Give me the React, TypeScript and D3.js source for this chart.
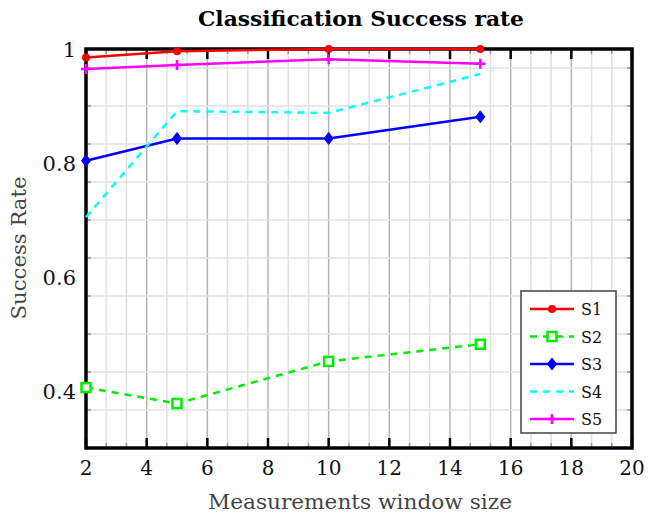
import React, { useEffect, useRef } from "react";
import * as d3 from "d3";

const windowSizes = [2, 5, 10, 15];
const s1 = [0.985, 0.996, 1.0, 1.0];
const s2 = [0.406, 0.378, 0.452, 0.482];
const s3 = [0.804, 0.843, 0.843, 0.881];
const s4 = [0.705, 0.891, 0.888, 0.956];
const s5 = [0.965, 0.972, 0.982, 0.974];
const xTicks = [2, 4, 6, 8, 10, 12, 14, 16, 18, 20];
const yTicks = [0.4, 0.6, 0.8, 1];

const series = [
  { name: "S1", values: s1, color: "#ff0000", dash: null, marker: "dot" },
  { name: "S2", values: s2, color: "#00ee00", dash: "7,6", marker: "square" },
  { name: "S3", values: s3, color: "#0000ff", dash: null, marker: "diamond" },
  { name: "S4", values: s4, color: "#00ffff", dash: "7,6", marker: "none" },
  { name: "S5", values: s5, color: "#ff00ff", dash: null, marker: "plus" },
];

const App = () => {
  const svgRef = useRef<SVGSVGElement>(null);

  useEffect(() => {
    const svg = d3.select(svgRef.current);
    svg.selectAll("*").remove();

    const width = 648;
    const height = 517;
    const margin = { top: 49, right: 16, bottom: 69, left: 86 };
    const font = "'DejaVu Serif', serif";

    const x = d3.scaleLinear().domain([2, 20]).range([margin.left, width - margin.right]);
    const y = d3.scaleLinear().domain([0.3, 1]).range([height - margin.bottom, margin.top]);
    const [x0, x1] = x.range();
    const [y0, y1] = y.range();

    svg.attr("width", width).attr("height", height);

    // grid: minor every 1/3 of a major step
    const xMinor = d3.range(0, 28).map(i => 2 + (i * 2) / 3).filter(v => v <= 20.001);
    const yMinor = d3.range(0, 12).map(i => 0.3 + (i * 0.2) / 3).filter(v => v <= 1.0001);
    const isMajorX = (v: number) => Math.abs(v / 2 - Math.round(v / 2)) < 0.01;
    const isMajorY = (v: number) => Math.abs(v / 0.2 - Math.round(v / 0.2)) < 0.01;

    const grid = svg.append("g");
    xMinor.forEach(v => {
      grid.append("line")
        .attr("x1", x(v)).attr("x2", x(v)).attr("y1", y0).attr("y2", y1)
        .attr("stroke", isMajorX(v) ? "#b4b4b4" : "#e0e0e0").attr("stroke-width", 1.5);
    });
    yMinor.forEach(v => {
      grid.append("line")
        .attr("x1", x0).attr("x2", x1).attr("y1", y(v)).attr("y2", y(v))
        .attr("stroke", isMajorY(v) ? "#b4b4b4" : "#e0e0e0").attr("stroke-width", 1.5);
    });

    // ticks (inside)
    const ticks = svg.append("g");
    xMinor.forEach(v => {
      const major = isMajorX(v);
      const len = major ? 10 : 5;
      const col = major ? "#000" : "#999";
      const sw = major ? 2.5 : 1.5;
      ticks.append("line").attr("x1", x(v)).attr("x2", x(v)).attr("y1", y0).attr("y2", y0 - len).attr("stroke", col).attr("stroke-width", sw);
      ticks.append("line").attr("x1", x(v)).attr("x2", x(v)).attr("y1", y1).attr("y2", y1 + len).attr("stroke", col).attr("stroke-width", sw);
    });
    yMinor.forEach(v => {
      const major = isMajorY(v);
      const len = major ? 10 : 5;
      const col = major ? "#000" : "#999";
      const sw = major ? 2.5 : 1.5;
      ticks.append("line").attr("x1", x0).attr("x2", x0 + len).attr("y1", y(v)).attr("y2", y(v)).attr("stroke", col).attr("stroke-width", sw);
      ticks.append("line").attr("x1", x1).attr("x2", x1 - len).attr("y1", y(v)).attr("y2", y(v)).attr("stroke", col).attr("stroke-width", sw);
    });

    // frame
    svg.append("rect")
      .attr("x", x0).attr("y", y1).attr("width", x1 - x0).attr("height", y0 - y1)
      .attr("fill", "none").attr("stroke", "#000").attr("stroke-width", 3.5);

    // tick labels
    svg.append("g").selectAll("text").data(xTicks).enter().append("text")
      .attr("x", d => x(d)).attr("y", y0 + 27)
      .attr("text-anchor", "middle")
      .style("font-family", font).style("font-size", "20px").style("fill", "#111")
      .text(d => String(d));
    svg.append("g").selectAll("text").data(yTicks).enter().append("text")
      .attr("x", x0 - 10).attr("y", d => y(d) + 8)
      .attr("text-anchor", "end")
      .style("font-family", font).style("font-size", "21px").style("fill", "#111")
      .text(d => String(d));

    const drawMarker = (g: any, kind: string, cx: number, cy: number, color: string) => {
      if (kind === "dot") {
        g.append("circle").attr("cx", cx).attr("cy", cy).attr("r", 4).attr("fill", color);
      } else if (kind === "square") {
        g.append("rect").attr("x", cx - 4.5).attr("y", cy - 4.5).attr("width", 9).attr("height", 9)
          .attr("fill", "white").attr("stroke", color).attr("stroke-width", 2.5);
      } else if (kind === "diamond") {
        g.append("path")
          .attr("d", `M${cx},${cy - 6}L${cx + 4.5},${cy}L${cx},${cy + 6}L${cx - 4.5},${cy}Z`)
          .attr("fill", color).attr("stroke", color).attr("stroke-width", 1);
      } else if (kind === "plus") {
        g.append("path")
          .attr("d", `M${cx - 5},${cy}H${cx + 5}M${cx},${cy - 5}V${cy + 5}`)
          .attr("stroke", color).attr("stroke-width", 2.5);
      }
    };

    const line = d3.line<number>().x((_, i) => x(windowSizes[i])).y(d => y(d));

    series.forEach(s => {
      const g = svg.append("g");
      g.append("path").attr("d", line(s.values) as string)
        .attr("fill", "none").attr("stroke", s.color).attr("stroke-width", 2.5)
        .attr("stroke-dasharray", s.dash);
      s.values.forEach((v, i) => drawMarker(g, s.marker, x(windowSizes[i]), y(v), s.color));
    });

    // legend
    const lg = svg.append("g");
    lg.append("rect").attr("x", 521).attr("y", 291).attr("width", 95).attr("height", 142)
      .attr("fill", "white").attr("stroke", "#444").attr("stroke-width", 1.5);
    series.forEach((s, i) => {
      const ly = 309 + i * 27.5;
      lg.append("line").attr("x1", 530).attr("x2", 574).attr("y1", ly).attr("y2", ly)
        .attr("stroke", s.color).attr("stroke-width", 2.5).attr("stroke-dasharray", s.dash);
      drawMarker(lg, s.marker, 552, ly, s.color);
      lg.append("text").attr("x", 581).attr("y", ly + 6)
        .style("font-family", font).style("font-size", "16px").style("fill", "#111").text(s.name);
    });

    // title and axis labels
    svg.append("text")
      .attr("x", 361).attr("y", 26)
      .attr("text-anchor", "middle")
      .attr("textLength", 326).attr("lengthAdjust", "spacingAndGlyphs")
      .style("font-family", font).style("font-size", "20px").style("font-weight", "bold")
      .text("Classification Success rate");
    svg.append("text")
      .attr("x", 360).attr("y", 509)
      .attr("text-anchor", "middle")
      .attr("textLength", 304).attr("lengthAdjust", "spacingAndGlyphs")
      .style("font-family", font).style("font-size", "20px").style("fill", "#444")
      .text("Measurements window size");
    svg.append("text")
      .attr("transform", `translate(26,248) rotate(-90)`)
      .attr("text-anchor", "middle")
      .attr("textLength", 143).attr("lengthAdjust", "spacingAndGlyphs")
      .style("font-family", font).style("font-size", "20px").style("fill", "#444")
      .text("Success Rate");
  }, []);

  return <svg ref={svgRef} style={{ position: "absolute", left: 0, top: 0 }} />;
};

export default App;
